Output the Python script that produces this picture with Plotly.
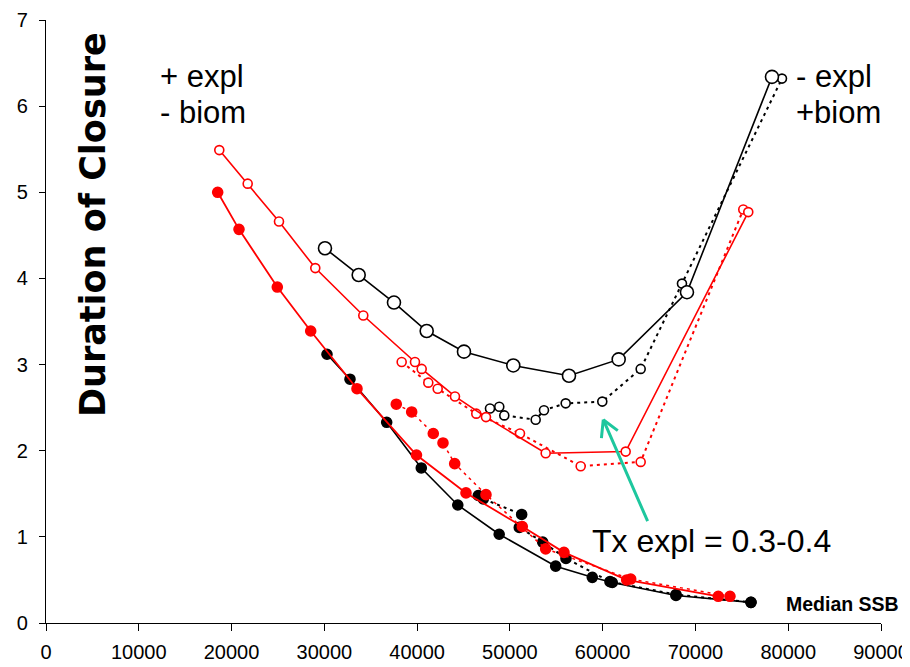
import plotly.graph_objects as go

# ---- data ----
blk_open_solid_x = [30070, 33703, 37507, 41032, 45052, 50366, 56369, 61726, 69087, 78248]
blk_open_solid_y = [4.35, 4.04, 3.72, 3.39, 3.15, 2.99, 2.87, 3.06, 3.84, 6.34]

blk_open_dot_x = [47854, 48857, 49396, 52780, 53674, 56013, 59958, 64097, 68548, 79326]
blk_open_dot_y = [2.49, 2.51, 2.41, 2.36, 2.47, 2.55, 2.57, 2.95, 3.94, 6.32]

red_open_solid_x = [18678, 21739, 25113, 29025, 34199, 39771, 40493, 44082, 47423, 53858, 62480, 75694]
red_open_solid_y = [5.49, 5.10, 4.66, 4.12, 3.57, 3.03, 2.95, 2.63, 2.39, 1.97, 1.99, 4.77]

red_open_dot_x = [38337, 41204, 42217, 46378, 51088, 57630, 64097, 75155]
red_open_dot_y = [3.03, 2.79, 2.72, 2.43, 2.20, 1.82, 1.87, 4.80]

blk_fill_solid_x = [30286, 32765, 36721, 40450, 44384, 48846, 54935, 58880, 61036, 67901, 75985]
blk_fill_solid_y = [3.12, 2.83, 2.33, 1.80, 1.37, 1.03, 0.66, 0.53, 0.47, 0.32, 0.24]

blk_fill_dot_x = [46593, 47132, 51271, 51012, 53534, 56046, 60787, 67901, 75985]
blk_fill_dot_y = [1.48, 1.44, 1.26, 1.11, 0.94, 0.75, 0.48, 0.33, 0.24]

red_fill_solid_x = [18506, 20802, 24930, 28529, 33520, 39932, 45268, 51336, 55830, 62588, 72461]
red_fill_solid_y = [5.00, 4.57, 3.90, 3.39, 2.72, 1.95, 1.51, 1.12, 0.82, 0.50, 0.31]

red_fill_dot_x = [37755, 39415, 41743, 42789, 44050, 47423, 53858, 63019, 73722]
red_fill_dot_y = [2.54, 2.45, 2.20, 2.09, 1.85, 1.49, 0.86, 0.51, 0.31]

x_ticks = [0, 10000, 20000, 30000, 40000, 50000, 60000, 70000, 80000, 90000]
y_ticks = [0, 1, 2, 3, 4, 5, 6, 7]

RED = "#FF0000"
BLK = "#000000"
TEAL = "#1DC79E"
DOT = "3px,4px"

fig = go.Figure()

def add(x, y, color, dash, width, msize, filled):
    fig.add_trace(go.Scatter(
        x=x, y=y, mode="lines+markers",
        line=dict(color=color, width=width, dash=dash),
        marker=dict(symbol="circle", size=msize,
                    color=color if filled else "white",
                    line=dict(color=color, width=1.6)),
        showlegend=False, hoverinfo="skip"))

# black series
add(blk_open_dot_x, blk_open_dot_y, BLK, DOT, 2, 9, False)
add(blk_open_solid_x, blk_open_solid_y, BLK, "solid", 1.6, 13, False)
add(blk_fill_dot_x, blk_fill_dot_y, BLK, DOT, 2, 10, True)
add(blk_fill_solid_x, blk_fill_solid_y, BLK, "solid", 1.6, 10, True)
# red series
add(red_open_dot_x, red_open_dot_y, RED, DOT, 2, 9, False)
add(red_open_solid_x, red_open_solid_y, RED, "solid", 1.6, 9, False)
add(red_fill_dot_x, red_fill_dot_y, RED, DOT, 1.5, 10, True)
add(red_fill_solid_x, red_fill_solid_y, RED, "solid", 1.8, 10, True)

FONT = "Liberation Sans, Arial, sans-serif"

ann = []
def txt(x, y, s, size, bold=False, xanchor="left"):
    ann.append(dict(x=x, y=y, xref="x", yref="y", text=("<b>%s</b>" % s) if bold else s,
                    showarrow=False, xanchor=xanchor, yanchor="middle",
                    font=dict(family=FONT, size=size, color="black")))

txt(12074, 6.34, "+ expl", 31)
txt(12074, 5.93, "- biom", 31)
txt(80634, 6.34, "- expl", 31)
txt(80634, 5.93, "+biom", 31)
txt(58643, 0.95, "Tx expl = 0.3-0.4", 32)
txt(79556, 0.22, "Median SSB", 19.5, bold=True)

# y title placed inside the plot
ann.append(dict(x=0.0563, y=0.66, xref="paper", yref="paper",
                text="<b>Duration of Closure</b>", textangle=-90, showarrow=False,
                xanchor="center", yanchor="middle",
                font=dict(family="DejaVu Sans, sans-serif", size=35, color="black")))

# teal arrow (shaft + two wings), tip in data coords
tip_x, tip_y = 60065, 2.36
for ax_, ay_ in [(45, 103), (-2, 20), (16, 12)]:
    ann.append(dict(x=tip_x, y=tip_y, xref="x", yref="y", ax=ax_, ay=ay_,
                    axref="pixel", ayref="pixel", text="", showarrow=True,
                    arrowhead=0, arrowwidth=3, arrowcolor=TEAL, standoff=0,
                    startstandoff=0))

# the page body has an 8px default margin; the figure is sized to compensate
fig.update_layout(
    width=902, height=659,
    margin=dict(l=38, r=29, t=12, b=44, autoexpand=False),
    paper_bgcolor="white", plot_bgcolor="white",
    annotations=ann,
    font=dict(family=FONT, color="black"),
    xaxis=dict(range=[0, 90000], tickvals=x_ticks, ticktext=[str(v) for v in x_ticks],
               automargin=False, ticklabelstandoff=4,
               showgrid=False, zeroline=False, showline=True, linecolor="black",
               linewidth=1.2, ticks="outside", ticklen=7, tickcolor="black",
               tickfont=dict(family=FONT, size=20, color="black")),
    yaxis=dict(range=[0, 7], tickvals=y_ticks, automargin=False,
               showgrid=False, zeroline=False, showline=True, linecolor="black",
               linewidth=1.2, ticks="outside", ticklen=6, tickcolor="black",
               ticklabelstandoff=7,
               tickfont=dict(family=FONT, size=20, color="black")),
)

fig.write_html("out.html")
